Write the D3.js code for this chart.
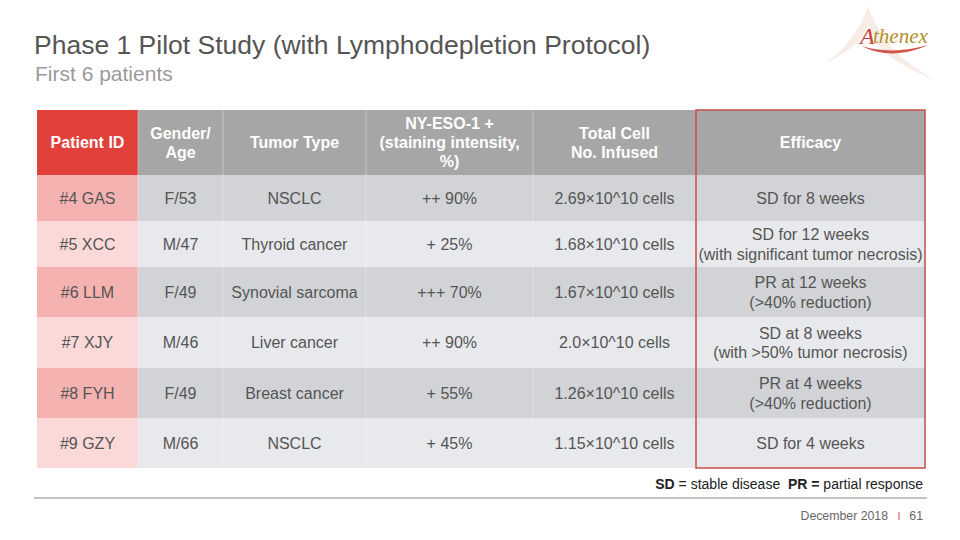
<!DOCTYPE html>
<html><head><meta charset="utf-8">
<script src="https://cdn.jsdelivr.net/npm/d3@7/dist/d3.min.js"></script>
<style>
html,body{margin:0;padding:0;background:#fff;}
svg{display:block;font-family:"Liberation Sans",Arial,Helvetica,sans-serif;}
</style></head>
<body>
<svg id="c" width="960" height="540"></svg>
<script>
const headers = [["Patient ID"],["Gender/","Age"],["Tumor Type"],["NY-ESO-1 +","(staining intensity,","%)"],["Total Cell","No. Infused"],["Efficacy"]];
const patientIds = ["#4 GAS","#5 XCC","#6 LLM","#7 XJY","#8 FYH","#9 GZY"];
const genderAge = ["F/53","M/47","F/49","M/46","F/49","M/66"];
const tumorTypes = ["NSCLC","Thyroid cancer","Synovial sarcoma","Liver cancer","Breast cancer","NSCLC"];
const nyEso = ["++ 90%","+ 25%","+++ 70%","++ 90%","+ 55%","+ 45%"];
const totalCells = ["2.69×10^10 cells","1.68×10^10 cells","1.67×10^10 cells","2.0×10^10 cells","1.26×10^10 cells","1.15×10^10 cells"];
const efficacy = [["SD for 8 weeks"],["SD for 12 weeks","(with significant tumor necrosis)"],["PR at 12 weeks","(>40% reduction)"],["SD at 8 weeks","(with >50% tumor necrosis)"],["PR at 4 weeks","(>40% reduction)"],["SD for 4 weeks"]];

const svg = d3.select("#c");
const colEdges = [37,138,223,366,533,696,925];
const rowEdges = [110,175,221,267,317,368,418,468];
const rows = patientIds.map((p,i)=>[[p],[genderAge[i]],[tumorTypes[i]],[nyEso[i]],[totalCells[i]],efficacy[i]]);

// Title
svg.append("text").attr("x",34).attr("y",54).attr("font-size",26.5).attr("fill","#555")
  .text("Phase 1 Pilot Study (with Lymphodepletion Protocol)");
svg.append("text").attr("x",35).attr("y",81).attr("font-size",21).attr("fill","#9a9a9a")
  .text("First 6 patients");

// Logo
const logo = svg.append("g");
logo.append("path").attr("d","M868,6 C860,30 845,50 824,64 C850,52 862,40 868,24 C872,45 890,62 935,80 C900,60 880,40 868,6Z")
  .attr("fill","#f6ebe3").attr("opacity",0.9);
logo.append("path").attr("d","M862,46 C880,52 905,52 928,45 C905,56 880,56 862,46Z").attr("fill","#d0574a");
logo.append("text").attr("x",860).attr("y",44).attr("font-family","Liberation Serif,serif").attr("font-style","italic")
  .attr("font-size",24).attr("fill","#c8433a").text("A");
logo.append("text").attr("x",873).attr("y",43).attr("font-family","Liberation Serif,serif").attr("font-style","italic")
  .attr("font-size",21).attr("fill","#b0902a").text("thenex");

// Table cells
const x = j => colEdges[j], w = j => colEdges[j+1]-colEdges[j];
const g = svg.append("g");
headers.forEach((h,j)=>{
  g.append("rect").attr("x",x(j)).attr("y",rowEdges[0]).attr("width",w(j)).attr("height",rowEdges[1]-rowEdges[0])
    .attr("fill", j===0 ? "#e2403a" : "#a6a6a6");
});
rows.forEach((r,i)=>{
  const odd = i%2===0;
  r.forEach((c,j)=>{
    g.append("rect").attr("x",x(j)).attr("y",rowEdges[i+1]).attr("width",w(j)).attr("height",rowEdges[i+2]-rowEdges[i+1])
      .attr("fill", j===0 ? (odd?"#f4b3b0":"#fad9d8") : (odd?"#d1d3d6":"#e8e9ec"));
  });
});
for(let j=1;j<colEdges.length-1;j++){
  g.append("line").attr("x1",x(j)).attr("x2",x(j)).attr("y1",rowEdges[0]).attr("y2",rowEdges[rowEdges.length-1])
    .attr("stroke","#ffffff").attr("stroke-opacity",0.35).attr("stroke-width",1);
}
function cellText(lines, j, y0, y1, opts){
  const cx = (colEdges[j]+colEdges[j+1])/2, cy=(y0+y1)/2;
  const n = lines.length;
  lines.forEach((t,k)=>{
    g.append("text").attr("x",cx).attr("y",cy + (k-(n-1)/2)*opts.lh + opts.fs*0.36)
      .attr("text-anchor","middle").attr("font-size",opts.fs).attr("font-weight",opts.bold?"bold":"normal")
      .attr("fill",opts.color).text(t);
  });
}
headers.forEach((h,j)=>cellText(h,j,rowEdges[0],rowEdges[1],{fs:16,lh:19,bold:true,color:"#fff"}));
rows.forEach((r,i)=>r.forEach((c,j)=>cellText(c,j,rowEdges[i+1],rowEdges[i+2],{fs:16,lh:19.5,bold:false,color:"#555"})));

g.append("rect").attr("x",colEdges[5]).attr("y",rowEdges[0]).attr("width",w(5)).attr("height",rowEdges[7]-rowEdges[0])
  .attr("fill","none").attr("stroke","#cc4a44").attr("stroke-width",1.5);

// legend
const leg = svg.append("text").attr("x",923).attr("y",489).attr("text-anchor","end").attr("font-size",14).attr("fill","#222")
  .attr("xml:space","preserve").style("white-space","pre");
leg.append("tspan").attr("font-weight","bold").text("SD");
leg.append("tspan").text(" = stable disease\u00a0 ");
leg.append("tspan").attr("font-weight","bold").text("PR =");
leg.append("tspan").text(" partial response");

// footer
svg.append("line").attr("x1",34).attr("x2",927).attr("y1",498).attr("y2",498).attr("stroke","#c4c4c4").attr("stroke-width",2);
svg.append("text").attr("x",888).attr("y",520).attr("text-anchor","end").attr("font-size",12.3).attr("fill","#666").text("December 2018");
svg.append("line").attr("x1",899).attr("x2",899).attr("y1",512).attr("y2",520).attr("stroke","#d44").attr("stroke-width",1);
svg.append("text").attr("x",923).attr("y",520).attr("text-anchor","end").attr("font-size",12.3).attr("fill","#666").text("61");
</script>
</body></html>
